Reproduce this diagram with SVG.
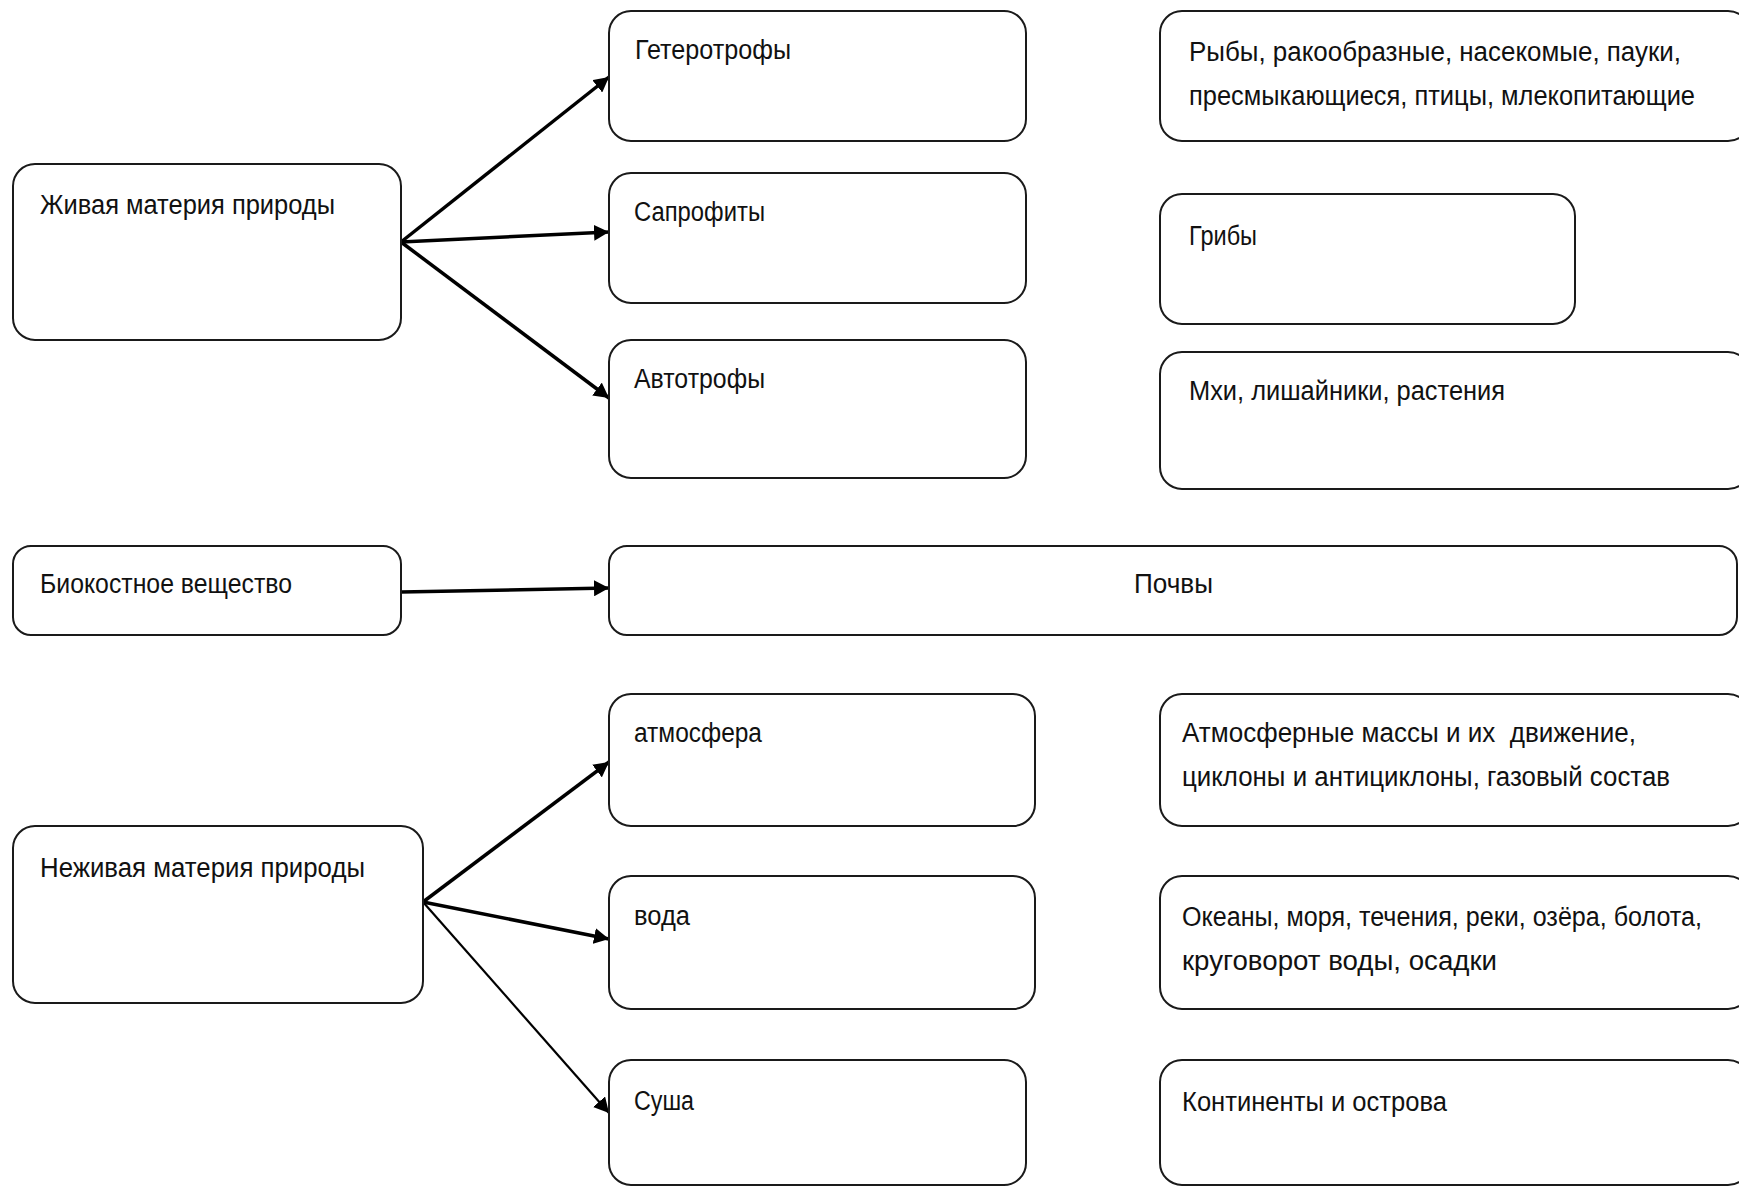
<svg xmlns="http://www.w3.org/2000/svg" width="1739" height="1188" viewBox="0 0 1739 1188">
<defs>
<style>
.box{fill:#fff;stroke:#1a1a1a;stroke-width:2}
.t{font-family:"Liberation Sans",Arial,sans-serif;font-size:27px;fill:#111}
.c{stroke:#000;stroke-width:3.5;fill:none}
.thin{stroke-width:2.2}
</style>
<marker id="ah" markerUnits="userSpaceOnUse" markerWidth="15" markerHeight="16" refX="15" refY="8" orient="auto">
<path d="M0,0 L15,8 L0,16 Z" fill="#000"/>
</marker>
</defs>
<rect width="1739" height="1188" fill="#fff"/>

<g id="connectors">
<line class="c" x1="401" y1="242" x2="609" y2="77" marker-end="url(#ah)"/>
<line class="c" x1="401" y1="242" x2="609" y2="232" marker-end="url(#ah)"/>
<line class="c" x1="401" y1="242" x2="609" y2="398" marker-end="url(#ah)"/>
<line class="c" x1="401" y1="592" x2="609" y2="588" marker-end="url(#ah)"/>
<line class="c" x1="423" y1="902" x2="609" y2="762" marker-end="url(#ah)"/>
<line class="c" x1="423" y1="902" x2="609" y2="939" marker-end="url(#ah)"/>
<line class="c thin" x1="423" y1="902" x2="609" y2="1113" marker-end="url(#ah)"/>
</g>

<g id="zhivaya">
<rect class="box" x="13" y="164" width="388" height="176" rx="22"/>
<text class="t" x="40" y="214" textLength="295" lengthAdjust="spacingAndGlyphs">Живая материя природы</text>
</g>
<g id="geterotrofy">
<rect class="box" x="609" y="11" width="417" height="130" rx="22"/>
<text class="t" x="635" y="59" textLength="156" lengthAdjust="spacingAndGlyphs">Гетеротрофы</text>
</g>
<g id="saprofity">
<rect class="box" x="609" y="173" width="417" height="130" rx="22"/>
<text class="t" x="634" y="221" textLength="131" lengthAdjust="spacingAndGlyphs">Сапрофиты</text>
</g>
<g id="avtotrofy">
<rect class="box" x="609" y="340" width="417" height="138" rx="22"/>
<text class="t" x="634" y="388" textLength="131" lengthAdjust="spacingAndGlyphs">Автотрофы</text>
</g>
<g id="ryby">
<rect class="box" x="1160" y="11" width="590" height="130" rx="22"/>
<text class="t" x="1189" y="61" textLength="492" lengthAdjust="spacingAndGlyphs">Рыбы, ракообразные, насекомые, пауки,</text>
<text class="t" x="1189" y="105" textLength="506" lengthAdjust="spacingAndGlyphs">пресмыкающиеся, птицы, млекопитающие</text>
</g>
<g id="griby">
<rect class="box" x="1160" y="194" width="415" height="130" rx="22"/>
<text class="t" x="1189" y="245" textLength="68" lengthAdjust="spacingAndGlyphs">Грибы</text>
</g>
<g id="mhi">
<rect class="box" x="1160" y="352" width="590" height="137" rx="22"/>
<text class="t" x="1189" y="400" textLength="316" lengthAdjust="spacingAndGlyphs">Мхи, лишайники, растения</text>
</g>

<g id="biokostnoe">
<rect class="box" x="13" y="546" width="388" height="89" rx="18"/>
<text class="t" x="40" y="593" textLength="252" lengthAdjust="spacingAndGlyphs">Биокостное вещество</text>
</g>
<g id="pochvy">
<rect class="box" x="609" y="546" width="1128" height="89" rx="18"/>
<text class="t" x="1134" y="593" textLength="79" lengthAdjust="spacingAndGlyphs">Почвы</text>
</g>

<g id="nezhivaya">
<rect class="box" x="13" y="826" width="410" height="177" rx="22"/>
<text class="t" x="40" y="877" textLength="325" lengthAdjust="spacingAndGlyphs">Неживая материя природы</text>
</g>
<g id="atmosfera">
<rect class="box" x="609" y="694" width="426" height="132" rx="22"/>
<text class="t" x="634" y="742" textLength="128" lengthAdjust="spacingAndGlyphs">атмосфера</text>
</g>
<g id="voda">
<rect class="box" x="609" y="876" width="426" height="133" rx="22"/>
<text class="t" x="634" y="925" textLength="56" lengthAdjust="spacingAndGlyphs">вода</text>
</g>
<g id="susha">
<rect class="box" x="609" y="1060" width="417" height="125" rx="22"/>
<text class="t" x="634" y="1110" textLength="60" lengthAdjust="spacingAndGlyphs">Суша</text>
</g>
<g id="atm-massy">
<rect class="box" x="1160" y="694" width="590" height="132" rx="22"/>
<text class="t" x="1182" y="742" textLength="454" lengthAdjust="spacingAndGlyphs">Атмосферные массы и их&#160; движение,</text>
<text class="t" x="1182" y="786" textLength="488" lengthAdjust="spacingAndGlyphs">циклоны и антициклоны, газовый состав</text>
</g>
<g id="okeany">
<rect class="box" x="1160" y="876" width="590" height="133" rx="22"/>
<text class="t" x="1182" y="926" textLength="520" lengthAdjust="spacingAndGlyphs">Океаны, моря, течения, реки, озёра, болота,</text>
<text class="t" x="1182" y="970" textLength="315" lengthAdjust="spacingAndGlyphs">круговорот воды, осадки</text>
</g>
<g id="kontinenty">
<rect class="box" x="1160" y="1060" width="590" height="125" rx="22"/>
<text class="t" x="1182" y="1111" textLength="265" lengthAdjust="spacingAndGlyphs">Континенты и острова</text>
</g>
</svg>
